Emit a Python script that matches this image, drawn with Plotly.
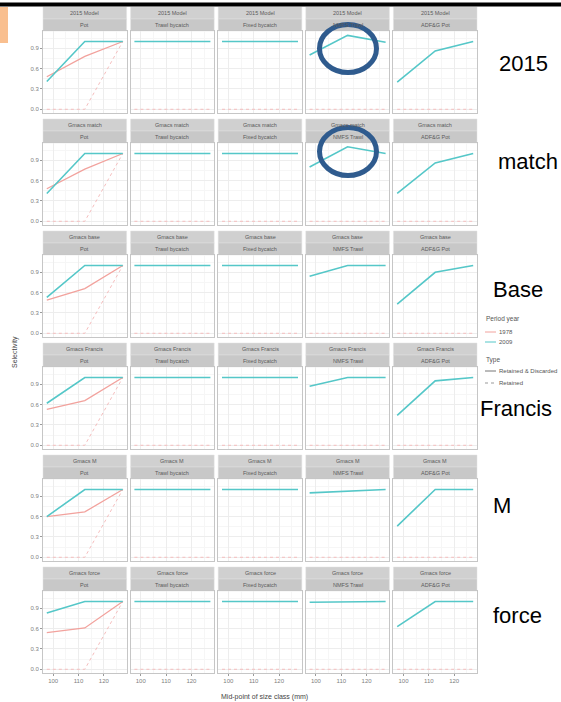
import plotly.graph_objects as go

W, H = 561, 702

# ---------------- data ----------------
models = ["2015 Model", "Gmacs match", "Gmacs base", "Gmacs Francis", "Gmacs M", "Gmacs force"]
row_labels = ["2015", "match", "Base", "Francis", "M", "force"]
fleets = ["Pot", "Trawl bycatch", "Fixed bycatch", "NMFS Trawl", "ADF&G Pot"]
size_mid = [97.5, 112.5, 127.5]
x_ticks = [100, 110, 120]
y_ticks = [0.0, 0.3, 0.6, 0.9]
y_ticktext = ["0.0", "0.3", "0.6", "0.9"]

# Pot fleet, retained & discarded
pot_1978 = [[0.48, 0.78, 1.0], [0.48, 0.77, 1.0], [0.49, 0.66, 1.0],
            [0.53, 0.66, 1.0], [0.60, 0.67, 1.0], [0.54, 0.61, 1.0]]
pot_2009 = [[0.41, 1.0, 1.0], [0.41, 1.0, 1.0], [0.53, 1.0, 1.0],
            [0.62, 1.0, 1.0], [0.60, 1.0, 1.0], [0.83, 1.0, 1.0]]
# Pot fleet, retained only
pot_1978_retained = [0.0, 0.0, 1.0]
# bycatch fleets
trawl_bycatch_2009 = [1.0, 1.0, 1.0]
fixed_bycatch_2009 = [1.0, 1.0, 1.0]
# survey fleets
nmfs_trawl_2009 = [[0.80, 1.09, 0.99], [0.80, 1.10, 1.0], [0.84, 1.0, 1.0],
                   [0.87, 1.0, 1.0], [0.95, 0.98, 1.0], [0.99, 1.0, 1.0]]
adfg_pot_2009 = [[0.40, 0.86, 1.0], [0.41, 0.86, 1.0], [0.43, 0.90, 1.0],
                 [0.44, 0.95, 1.0], [0.46, 1.0, 1.0], [0.63, 1.0, 1.0]]
other_1978_retained = [0.0, 0.0, 0.0]

# ---------------- style ----------------
C1978 = "#F2A29D"
C2009 = "#55C7C8"
CRET = "#F5BDBD"
FONT = "Liberation Sans, Arial, sans-serif"

PX_L, PW, PG = 43.0, 83.6, 4.0
TOP0, STRIP, PH, PITCH = 7.0, 12.0, 82.0, 112.0


def fx(px):
    return px / W


def fy(py):
    return 1 - py / H


fig = go.Figure()
layout = dict(width=W, height=H, autosize=False,
              margin=dict(l=0, r=0, t=0, b=0),
              paper_bgcolor="white", plot_bgcolor="white",
              showlegend=False, font=dict(family=FONT))
shapes, annotations = [], []

for r in range(6):
    for c in range(5):
        idx = r * 5 + c + 1
        sfx = "" if idx == 1 else str(idx)
        xa, ya = "x" + sfx, "y" + sfx
        x0 = PX_L + c * (PW + PG)
        x1 = x0 + PW
        T = TOP0 + r * PITCH
        p0 = T + 2 * STRIP
        p1 = p0 + PH
        bottom = (r == 5)
        left = (c == 0)
        layout["xaxis" + sfx] = dict(
            domain=[fx(x0), fx(x1)], anchor=ya, range=[96, 129],
            tickvals=x_ticks, showticklabels=bottom,
            ticks="outside" if bottom else "", ticklen=2, tickcolor="#9A9A9A",
            tickfont=dict(size=6, color="#808080"),
            showgrid=True, gridcolor="#EDEDED", gridwidth=0.6,
            minor=dict(tickvals=[105, 115, 125], showgrid=True, gridcolor="#F6F6F6", gridwidth=0.5),
            showline=True, mirror=True, linecolor="#C6C6C6", linewidth=1,
            zeroline=False, fixedrange=True)
        layout["yaxis" + sfx] = dict(
            domain=[fy(p1), fy(p0)], anchor=xa, range=[-0.055, 1.155],
            tickvals=y_ticks, ticktext=y_ticktext, showticklabels=left,
            ticks="outside" if left else "", ticklen=2, tickcolor="#9A9A9A",
            tickfont=dict(size=6, color="#808080"),
            showgrid=True, gridcolor="#EDEDED", gridwidth=0.6,
            minor=dict(tickvals=[0.15, 0.45, 0.75, 1.05], showgrid=True, gridcolor="#F6F6F6", gridwidth=0.5),
            showline=True, mirror=True, linecolor="#C6C6C6", linewidth=1,
            zeroline=False, fixedrange=True)

        # strips
        for k, (txt, col) in enumerate([(models[r], "#D0D0D0"), (fleets[c], "#C8C8C8")]):
            shapes.append(dict(type="rect", xref="paper", yref="paper",
                               x0=fx(x0), x1=fx(x1), y0=fy(T + (k + 1) * STRIP), y1=fy(T + k * STRIP),
                               fillcolor=col, line=dict(color="#E2E2E2", width=0.5), layer="below"))
            annotations.append(dict(xref="paper", yref="paper", x=fx((x0 + x1) / 2),
                                    y=fy(T + k * STRIP + STRIP / 2), text=txt, showarrow=False,
                                    xanchor="center", yanchor="middle",
                                    font=dict(size=5.5, color="#5A5A5A", family=FONT)))

        # data traces
        if c == 0:
            series = [(pot_1978_retained, CRET, "dot", 1.0),
                      (pot_1978[r], C1978, "solid", 1.3),
                      (pot_2009[r], C2009, "solid", 1.6)]
        elif c == 1:
            series = [(other_1978_retained, CRET, "dot", 1.0),
                      (trawl_bycatch_2009, C2009, "solid", 1.6)]
        elif c == 2:
            series = [(other_1978_retained, CRET, "dot", 1.0),
                      (fixed_bycatch_2009, C2009, "solid", 1.6)]
        elif c == 3:
            series = [(other_1978_retained, CRET, "dot", 1.0),
                      (nmfs_trawl_2009[r], C2009, "solid", 1.6)]
        else:
            series = [(other_1978_retained, CRET, "dot", 1.0),
                      (adfg_pot_2009[r], C2009, "solid", 1.6)]
        for yv, col, dash, w in series:
            fig.add_trace(go.Scatter(x=size_mid, y=yv, mode="lines", xaxis=xa, yaxis=ya,
                                     line=dict(color=col, width=w, dash=dash),
                                     hoverinfo="skip"))

# big row labels
label_pos = [(523, 63), (528, 161), (518, 290), (516, 408), (502, 506), (517, 615)]
for (lx, ly), txt in zip(label_pos, row_labels):
    annotations.append(dict(xref="paper", yref="paper", x=fx(lx), y=fy(ly), text=txt,
                            showarrow=False, xanchor="center", yanchor="middle",
                            font=dict(size=22, color="black", family=FONT)))

# axis titles
annotations.append(dict(xref="paper", yref="paper", x=fx(264), y=fy(697),
                        text="Mid-point of size class (mm)", showarrow=False,
                        xanchor="center", yanchor="middle",
                        font=dict(size=7, color="#444444", family=FONT)))
annotations.append(dict(xref="paper", yref="paper", x=fx(15), y=fy(352),
                        text="Selectivity", showarrow=False, textangle=-90,
                        xanchor="center", yanchor="middle",
                        font=dict(size=7, color="#444444", family=FONT)))

# legend (drawn)
def leg_text(x, y, t, size=6, color="#555555"):
    annotations.append(dict(xref="paper", yref="paper", x=fx(x), y=fy(y), text=t,
                            showarrow=False, xanchor="left", yanchor="middle",
                            font=dict(size=size, color=color, family=FONT)))

def leg_line(y, color, dash, width):
    shapes.append(dict(type="line", xref="paper", yref="paper", x0=fx(485), x1=fx(496),
                       y0=fy(y), y1=fy(y), line=dict(color=color, dash=dash, width=width)))

leg_text(484, 319, "Period year", 6.5, "#555555")
leg_line(332, C1978, "solid", 1)
leg_text(497, 332, "1978")
leg_line(342, C2009, "solid", 1)
leg_text(497, 342, "2009")
leg_text(484, 360, "Type", 6.5, "#555555")
leg_line(371, "#777777", "solid", 1)
leg_text(497, 371, "Retained & Discarded")
leg_line(383, "#999999", "dot", 1)
leg_text(497, 383, "Retained")

# decorations: top black bar, orange tab, blue ellipses
shapes.append(dict(type="rect", xref="paper", yref="paper", x0=0, x1=1, y0=fy(6.5), y1=fy(2.5),
                   fillcolor="black", line=dict(width=0)))
shapes.append(dict(type="rect", xref="paper", yref="paper", x0=0, x1=fx(8), y0=fy(43), y1=fy(7),
                   fillcolor="#F9BF8F", line=dict(width=0)))
for (ex0, ey0, ex1, ey1) in [(319.5, 24.5, 376.5, 72.5), (319.5, 127.5, 376.5, 175.5)]:
    shapes.append(dict(type="circle", xref="paper", yref="paper",
                       x0=fx(ex0), x1=fx(ex1), y0=fy(ey1), y1=fy(ey0),
                       line=dict(color="#2F5B8E", width=5), fillcolor="rgba(0,0,0,0)"))

layout["shapes"] = shapes
layout["annotations"] = annotations
fig.update_layout(**layout)

fig.write_html("out.html", config={"displayModeBar": False},
               post_script="document.body.style.margin='0';document.body.style.overflow='hidden';")
